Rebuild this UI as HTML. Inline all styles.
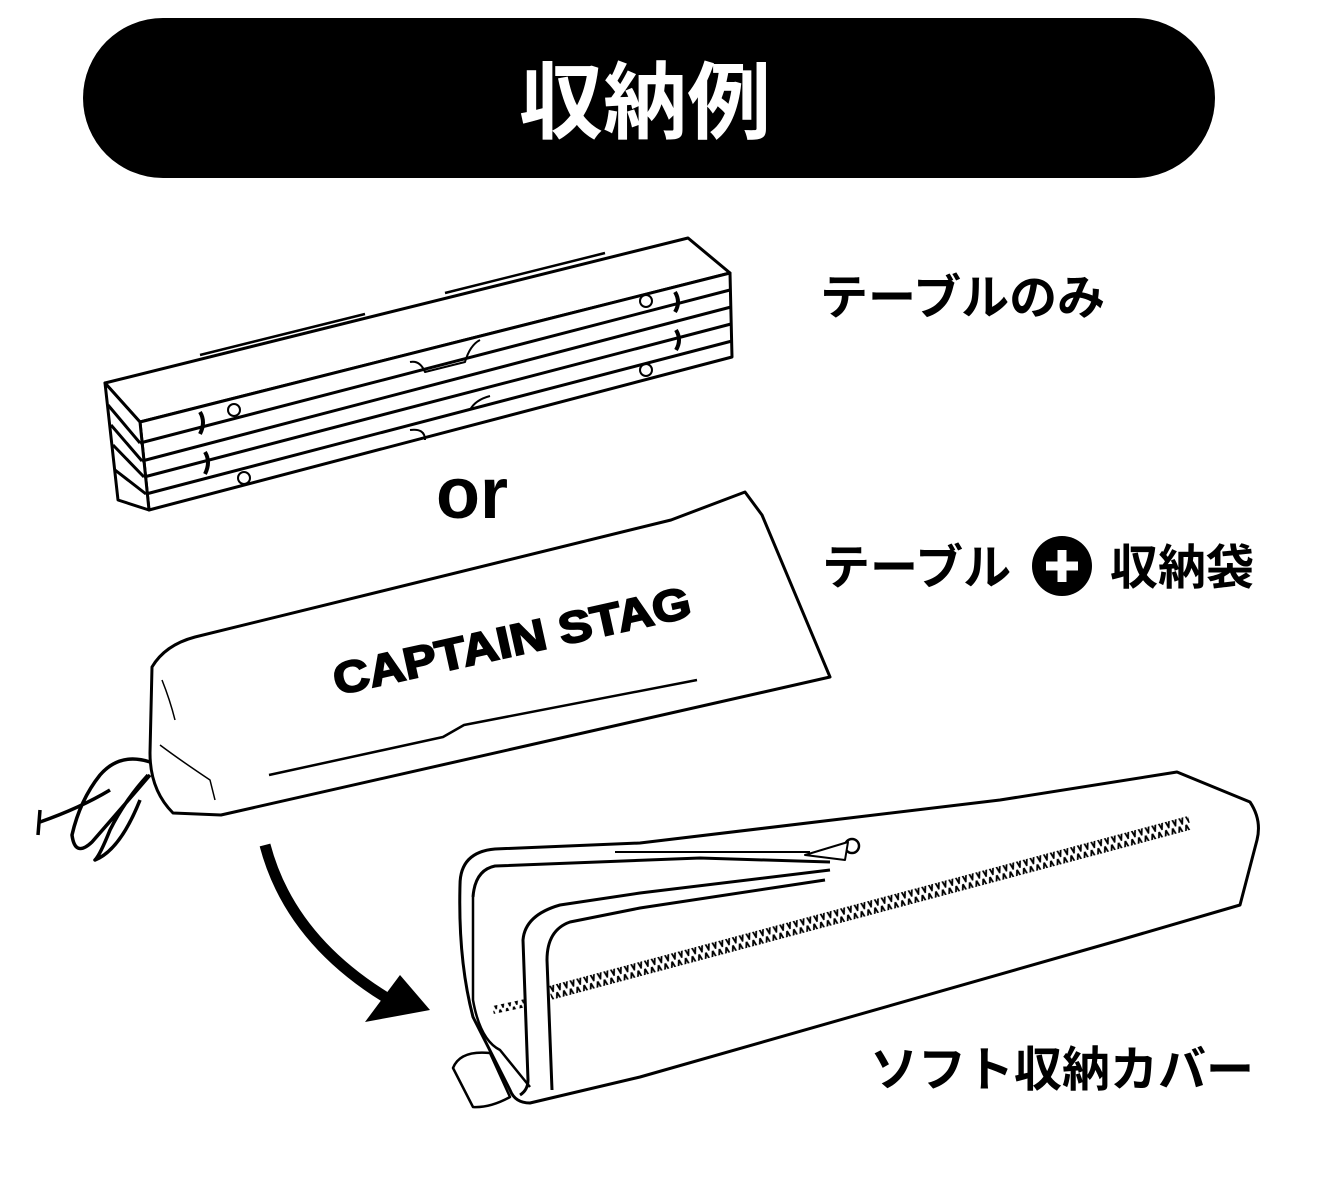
<!DOCTYPE html>
<html><head><meta charset="utf-8"><style>
html,body{margin:0;padding:0;background:#fff;}
body{width:1320px;height:1194px;overflow:hidden;}
text{font-family:"Liberation Sans","Noto Sans CJK JP",sans-serif;font-weight:bold;}
</style></head><body>
<svg width="1320" height="1194" viewBox="0 0 1320 1194" xmlns="http://www.w3.org/2000/svg">
<defs>
<pattern id="zz" width="7" height="14" patternUnits="userSpaceOnUse">
<polyline points="0,1 3.5,13 7,1" fill="none" stroke="#000" stroke-width="1.8"/>
</pattern>
</defs>
<rect x="83" y="18" width="1132" height="160" rx="80" fill="#000"/>
<text x="645" y="132" font-size="84" fill="#fff" text-anchor="middle">収納例</text>

<g fill="none" stroke="#000" stroke-width="3" stroke-linejoin="round">
<!-- folded table -->
<polygon points="105,383 688,238 730,273 140,422" fill="#fff"/>
<polygon points="140,422 730,273 732,357 149,510" fill="#fff"/>
<polygon points="105,383 140,422 149,510 118,500" fill="#fff"/>
<line x1="140" y1="443" x2="730" y2="290"/>
<line x1="142" y1="461" x2="731" y2="307"/>
<line x1="144" y1="477" x2="731" y2="324"/>
<line x1="146" y1="494" x2="732" y2="341"/>
<line x1="108" y1="405" x2="140" y2="443"/>
<line x1="111" y1="425" x2="142" y2="461"/>
<line x1="113" y1="445" x2="144" y2="477"/>
<line x1="115" y1="470" x2="146" y2="494"/>
<path d="M200,355 L365,314 M445,293 L605,253" stroke-width="2.5"/>
<path d="M410,362 Q420,360 425,372 L465,362 Q470,345 480,340" stroke-width="2"/>
<path d="M410,430 Q425,428 425,440 M470,410 Q475,400 490,396" stroke-width="2"/>
<circle cx="234" cy="410" r="6" stroke-width="2"/><circle cx="244" cy="478" r="6" stroke-width="2"/>
<circle cx="646" cy="301" r="6" stroke-width="2"/><circle cx="646" cy="370" r="6" stroke-width="2"/>
<path d="M200,412 q6,10 0,22 M205,452 q6,10 0,22 M675,292 q6,10 0,20 M676,330 q6,10 0,20" stroke-width="4"/>
<!-- bag -->
<path d="M195,637 L671,520 L745,492 L762,515 L830,677 L221,815 L173,813 Q150,790 150,753 L152,667 Q165,645 195,637 Z" fill="#fff"/>
<path d="M269,775 L443,737 L464,725 L697,680" stroke-width="2.5"/>
<path d="M160,745 Q180,760 210,780 L215,800 M162,680 Q170,700 175,720" stroke-width="1.5"/>
<path d="M150,762 Q120,752 100,775 Q80,800 72,835 Q75,858 92,842 Q120,810 150,775 M148,775 Q125,800 110,830 Q100,855 95,860 Q120,850 140,800 M40,810 L38,835 M40,822 Q80,808 110,790" stroke-width="3.5"/>
<!-- soft cover -->
<path d="M460,885 Q460,852 495,849 L640,843 L1000,800 L1177,772 L1250,802 Q1262,820 1257,840 L1240,905 L1120,940 L640,1077 L530,1103 Q515,1103 510,1090 L473,1017 Q458,960 460,885 Z" fill="#fff"/>
<path d="M473,897 Q475,870 495,866 L700,858 L830,862"/>
<path d="M473,897 L473,1000 Q480,1040 500,1050 L530,1087" stroke-width="2.5"/>
<path d="M830,870 L640,893 L560,905 Q525,915 523,940 L528,1080 Q528,1090 520,1095"/>
<path d="M825,880 L640,908 L570,922 Q547,930 547,960 L552,1090"/>
<path d="M615,852 L810,852" stroke-width="2"/>
<path d="M453,1068 Q460,1050 490,1053 L510,1097 Q490,1108 473,1107 Z" fill="#fff" stroke-width="2.5"/>
<circle cx="852" cy="846" r="7" fill="#fff" stroke-width="2.5"/><path d="M805,855 L848,842 L845,860 Z" fill="#fff" stroke-width="2"/>
</g>
<g transform="translate(550,993) rotate(-14.9)"><rect x="0" y="-7" width="662" height="14" fill="url(#zz)"/></g>
<g transform="translate(493,1010) rotate(-12)"><rect x="0" y="-4" width="32" height="8" fill="url(#zz)"/></g>
<text transform="translate(337,695) rotate(-12.5)" font-size="44" fill="#000" stroke="#000" stroke-width="2" textLength="365" lengthAdjust="spacingAndGlyphs">CAPTAIN STAG</text>
<text x="436" y="518" font-size="72" fill="#000">or</text>
<!-- arrow -->
<path d="M265,845 Q290,940 390,1000" fill="none" stroke="#000" stroke-width="11"/>
<polygon points="365,1022 430,1010 400,975" fill="#000"/>

<text x="820" y="314" font-size="48" fill="#000">テーブルのみ</text>
<text x="822" y="584" font-size="48" fill="#000">テーブル</text>
<circle cx="1062" cy="566" r="30" fill="#000"/>
<path d="M1062,550 V582 M1046,566 H1078" stroke="#fff" stroke-width="9"/>
<text x="1110" y="584" font-size="48" fill="#000">収納袋</text>
<text x="870" y="1086" font-size="48" fill="#000">ソフト収納カバー</text>
</svg>
</body></html>
